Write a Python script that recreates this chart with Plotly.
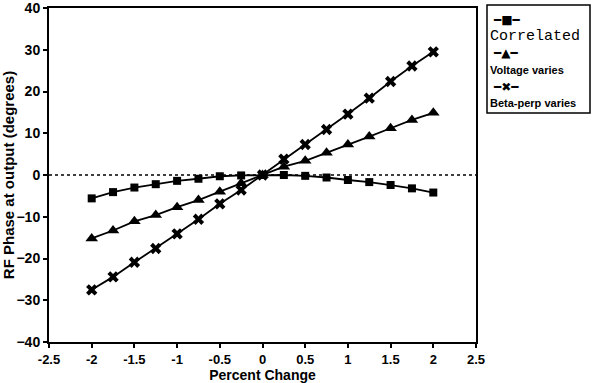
import plotly.graph_objects as go

x_vals = [-2, -1.75, -1.5, -1.25, -1, -0.75, -0.5, -0.25, 0, 0.25, 0.5, 0.75, 1, 1.25, 1.5, 1.75, 2]
correlated = [-5.6, -4.1, -3.0, -2.2, -1.4, -0.9, -0.3, -0.1, 0.0, 0.0, -0.2, -0.6, -1.2, -1.7, -2.4, -3.2, -4.2]
voltage = [-15.2, -13.3, -11.1, -9.6, -7.7, -6.0, -4.0, -2.0, 0.0, 2.0, 3.4, 5.3, 7.3, 9.2, 11.2, 13.2, 14.9]
beta_perp = [-27.5, -24.4, -20.9, -17.6, -14.1, -10.6, -6.9, -3.6, 0.0, 3.8, 7.3, 10.9, 14.6, 18.4, 22.4, 26.1, 29.5]

series_names = ["Correlated", "Voltage varies", "Beta-perp varies"]
legend_glyphs = ["━■━", "━▲━", "━✖━"]

x_ticks = [-2.5, -2, -1.5, -1, -0.5, 0, 0.5, 1, 1.5, 2, 2.5]
x_ticklabels = ["-2.5", "-2", "-1.5", "-1", "-0.5", "0", "0.5", "1", "1.5", "2", "2.5"]
y_ticks = [-40, -30, -20, -10, 0, 10, 20, 30, 40]

W, H = 598, 383
ML, MR, MT, MB = 49, 122, 8, 41
PW, PH = W - ML - MR, H - MT - MB

def px_x(p):
    return (p - ML) / PW

def px_y(p):
    return 1 - (p - MT) / PH

fig = go.Figure()
symbols = ["square", "triangle-up", "x"]
sizes = [8, 11, 10]
for name, ys, sym, sz in zip(series_names, [correlated, voltage, beta_perp], symbols, sizes):
    fig.add_trace(go.Scatter(x=x_vals, y=ys, mode="lines+markers", name=name,
                             line=dict(color="black", width=1.8),
                             marker=dict(symbol=sym, size=sz, color="black"),
                             showlegend=False))

fig.add_hline(y=0, line=dict(color="black", width=1.3, dash="dot"))

sans = "Liberation Sans, Arial, sans-serif"
xtick_font = dict(family=sans, size=13, color="black", weight="bold")
ytick_font = dict(family=sans, size=14, color="black", weight="bold")

fig.update_xaxes(range=[-2.5, 2.5], tickvals=x_ticks, ticktext=x_ticklabels,
                 showline=True, linecolor="black", linewidth=2, mirror=True,
                 ticks="outside", ticklen=4, tickwidth=1.5, tickcolor="black",
                 showgrid=False, zeroline=False, tickfont=xtick_font,
                 ticklabeloverflow="allow",
                 title=dict(text="Percent Change",
                            font=dict(family=sans, size=14, color="black", weight="bold"),
                            standoff=2))
fig.update_yaxes(range=[-40, 40], tickvals=y_ticks,
                 showline=True, linecolor="black", linewidth=2, mirror=True,
                 ticks="outside", ticklen=4, tickwidth=1.5, tickcolor="black",
                 showgrid=False, zeroline=False, tickfont=ytick_font,
                 ticklabeloverflow="allow",
                 title=dict(text="RF Phase at output (degrees)",
                            font=dict(family=sans, size=15, color="black", weight="bold"),
                            standoff=3))

# Legend box (stacked style: sample above label)
fig.add_shape(type="rect", xref="paper", yref="paper",
              x0=px_x(487), x1=px_x(590), y0=px_y(113), y1=px_y(5),
              line=dict(color="black", width=1.5), fillcolor="white", layer="above")

sample_y = [20, 53, 87]
label_y = [37, 70, 103]
label_fonts = [dict(family="Courier New, Liberation Mono, monospace", size=15, color="black"),
               dict(family=sans, size=11, color="black", weight="bold"),
               dict(family=sans, size=11, color="black", weight="bold")]
for glyph, name, sy, ly, lf in zip(legend_glyphs, series_names, sample_y, label_y, label_fonts):
    fig.add_annotation(xref="paper", yref="paper", x=px_x(491), y=px_y(sy),
                       xanchor="left", yanchor="middle", text=glyph, showarrow=False,
                       font=dict(family="DejaVu Sans", size=12, color="black"))
    fig.add_annotation(xref="paper", yref="paper", x=px_x(488), y=px_y(ly),
                       xanchor="left", yanchor="middle", text=name, showarrow=False,
                       font=lf)

fig.update_layout(
    width=W, height=H,
    margin=dict(l=ML, r=MR, t=MT, b=MB, autoexpand=False),
    plot_bgcolor="white", paper_bgcolor="white",
    showlegend=False,
)

fig.write_html("out.html")
